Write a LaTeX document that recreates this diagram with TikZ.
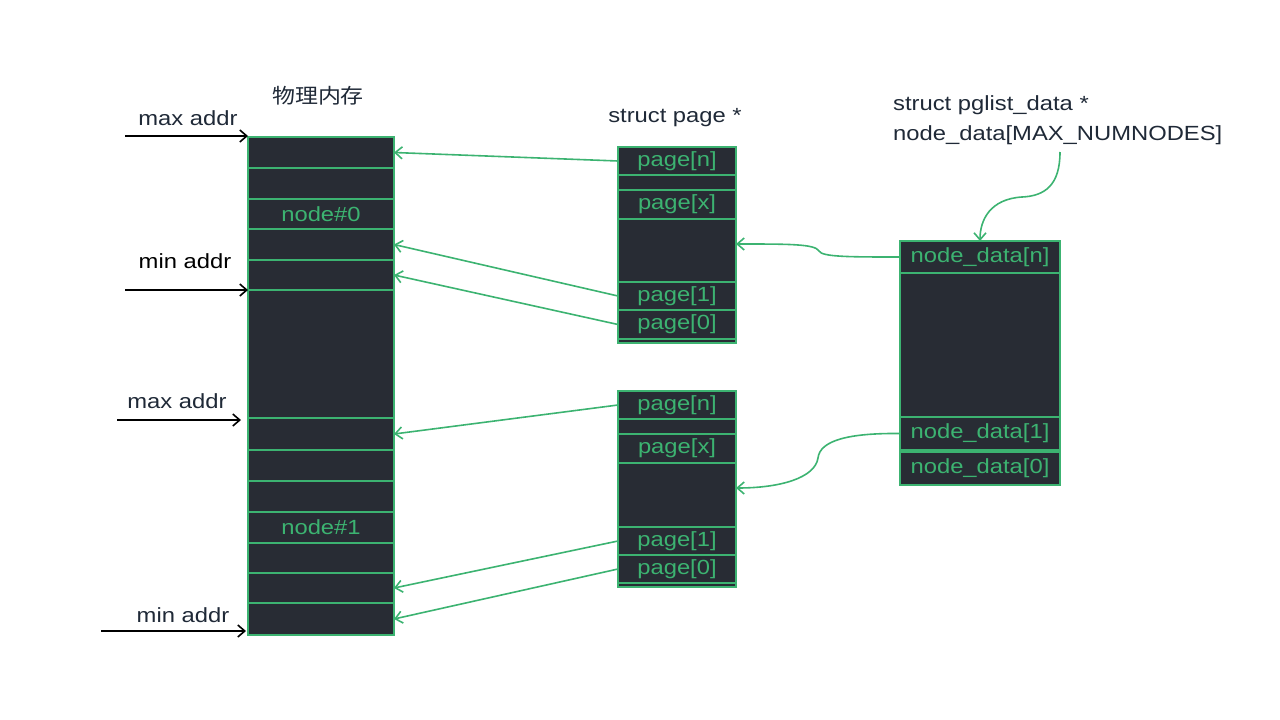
\documentclass[tikz,border=0pt]{standalone}
\usepackage{fontspec}
\setmainfont{Liberation Sans}[FakeStretch=1.16]
\newfontfamily\cjk{Noto Sans CJK SC}[FakeStretch=1.12]
\usetikzlibrary{arrows.meta}
\definecolor{bgdark}{HTML}{282C34}
\definecolor{grn}{HTML}{3CB371}
\definecolor{lbl}{HTML}{1F2937}
\begin{document}
\begin{tikzpicture}[x=1pt,y=-1pt,
 cell/.style={draw=grn, fill=bgdark, line width=1.3pt, anchor=north west, inner sep=0pt, outer sep=0pt, text=grn, font=\fontsize{20.5}{24}\selectfont},
 lab/.style={text=lbl, font=\fontsize{20.5}{24}\selectfont, inner sep=0pt},
 gar/.style={draw=grn, line width=1.6pt, -{Straight Barb[length=7pt,width=12pt]}},
 bar/.style={draw=black, line width=1.6pt, -{Straight Barb[length=7pt,width=12pt]}}]
\useasboundingbox (0,0) rectangle (1280,720);
% left column: physical memory
\node[cell, minimum width=146pt, minimum height=498pt] (mem) at (248,137) {};
\node[cell, minimum width=146pt, minimum height=31pt] (r1) at (248,137) {};
\node[cell, minimum width=146pt, minimum height=31pt] (r2) at (248,168) {};
\node[cell, minimum width=146pt, minimum height=30pt] (r3) at (248,199) {node\#0};
\node[cell, minimum width=146pt, minimum height=31pt] (r4) at (248,229) {};
\node[cell, minimum width=146pt, minimum height=30pt] (r5) at (248,260) {};
\node[cell, minimum width=146pt, minimum height=32pt] (r6) at (248,418) {};
\node[cell, minimum width=146pt, minimum height=31pt] (r7) at (248,450) {};
\node[cell, minimum width=146pt, minimum height=31pt] (r8) at (248,481) {};
\node[cell, minimum width=146pt, minimum height=31pt] (r9) at (248,512) {node\#1};
\node[cell, minimum width=146pt, minimum height=30pt] (r10) at (248,543) {};
\node[cell, minimum width=146pt, minimum height=30pt] (r11) at (248,573) {};
\node[cell, minimum width=146pt, minimum height=32pt] (r12) at (248,603) {};
\node[lab, font=\fontsize{20.5}{24}\selectfont\cjk] (title) at (318,96) {物理内存};
% address labels and arrows
\node[lab] (l1) at (188,118) {max addr};
\node[lab, text=black] (l2) at (185,261) {min addr};
\node[lab] (l3) at (177,401) {max addr};
\node[lab] (l4) at (183,615) {min addr};
\coordinate (a1) at (125,136);
\coordinate (a2) at (125,290);
\coordinate (a3) at (117,420);
\coordinate (a4) at (101,631);
\draw[bar] (a1) -- (a1 -| mem.west);
\draw[bar] (a2) -- (a2 -| mem.west);
\draw[bar, shorten >=7pt] (a3) -- (a3 -| mem.west);
\draw[bar, shorten >=2pt] (a4) -- (a4 -| mem.west);
% middle column top
\node[lab] (sp) at (675,118) {struct page *};
\node[cell, minimum width=118pt, minimum height=196pt] (ptop) at (618,147) {};
\node[cell, minimum width=118pt, minimum height=28pt] (pn1) at (618,147) {page[n]};
\node[cell, minimum width=118pt, minimum height=15pt] (pe1) at (618,175) {};
\node[cell, minimum width=118pt, minimum height=29pt] (px1) at (618,190) {page[x]};
\node[cell, minimum width=118pt, minimum height=28pt] (p11) at (618,282) {page[1]};
\node[cell, minimum width=118pt, minimum height=29pt] (p01) at (618,310) {page[0]};
% middle column bottom
\node[cell, minimum width=118pt, minimum height=196pt] (pbot) at (618,391) {};
\node[cell, minimum width=118pt, minimum height=28pt] (pn2) at (618,391) {page[n]};
\node[cell, minimum width=118pt, minimum height=15pt] (pe2) at (618,419) {};
\node[cell, minimum width=118pt, minimum height=29pt] (px2) at (618,434) {page[x]};
\node[cell, minimum width=118pt, minimum height=28pt] (p12) at (618,527) {page[1]};
\node[cell, minimum width=118pt, minimum height=28pt] (p02) at (618,555) {page[0]};
% right column
\node[lab, align=left, anchor=north west, font=\fontsize{20.5}{30}\selectfont] (pg) at (893,95) {struct pglist\_data *\\node\_data[MAX\_NUMNODES]};
\node[cell, minimum width=160pt, minimum height=244pt] (nd) at (900,241) {};
\node[cell, minimum width=160pt, minimum height=32pt] (ndn) at (900,241) {node\_data[n]};
\node[cell, minimum width=160pt, minimum height=33pt] (nd1) at (900,417) {node\_data[1]};
\node[cell, minimum width=160pt, minimum height=33pt] (nd0) at (900,452) {node\_data[0]};
% page -> memory arrows
\draw[gar] (pn1.west) -- (r1.east);
\draw[gar] (p11.west) -- (r4.east);
\draw[gar] (p01.west) -- (r5.east);
\draw[gar] (pn2.west) -- (r6.east);
\draw[gar] (p12.west) -- (r11.east);
\draw[gar] (p02.west) -- (r12.east);
% node_data -> page arrays
\draw[gar] (ndn.west) .. controls (850,257) and (822,257) .. (819,251)
  .. controls (815,244) and (790,244) .. ([yshift=-97pt]ptop.north east);
\draw[gar] (nd1.west) .. controls (850,433) and (820,440) .. (818,458)
  .. controls (815,478) and (780,488) .. ([yshift=-97pt]pbot.north east);
% label -> node_data
\coordinate (c1) at (1060,152);
\draw[gar] (c1) .. controls (1060,185) and (1045,196) .. (1022,197)
  .. controls (990,199) and (980,220) .. (ndn.north);
\end{tikzpicture}
\end{document}
